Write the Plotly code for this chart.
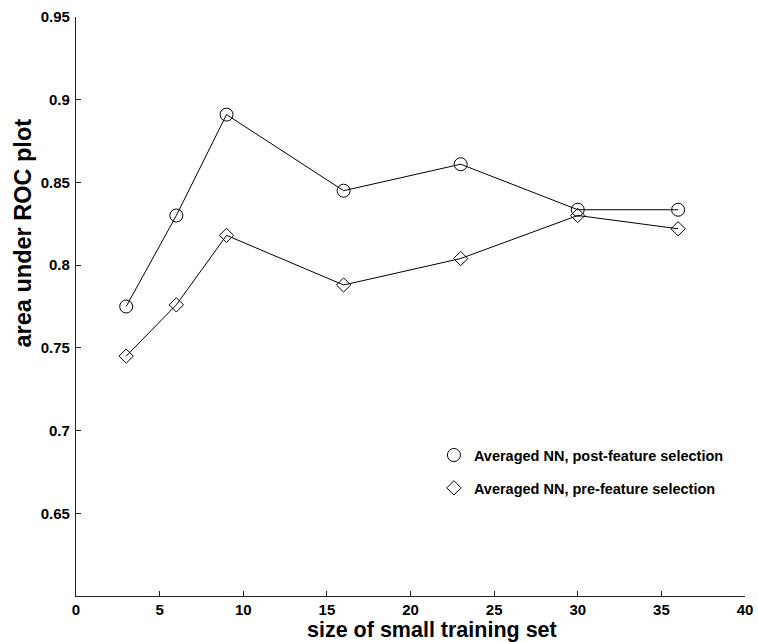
import plotly.graph_objects as go

train_size = [3, 6, 9, 16, 23, 30, 36]
auc_post = [0.775, 0.830, 0.891, 0.845, 0.861, 0.8335, 0.8335]
auc_pre = [0.745, 0.776, 0.818, 0.788, 0.804, 0.830, 0.822]

name_post = "Averaged NN, post-feature selection"
name_pre = "Averaged NN, pre-feature selection"
x_title = "size of small training set"
y_title = "area under ROC plot"

x_ticks = [0, 5, 10, 15, 20, 25, 30, 35, 40]
y_ticks = [0.65, 0.7, 0.75, 0.8, 0.85, 0.9, 0.95]
y_ticklabels = ["0.65", "0.7", "0.75", "0.8", "0.85", "0.9", "0.95"]

FONT = "Liberation Sans, Arial, sans-serif"

fig = go.Figure()
for ys, sym, sz, nm, grp in [
    (auc_post, "circle-open", 13, name_post, "a"),
    (auc_pre, "diamond-open", 11, name_pre, "b"),
]:
    fig.add_trace(go.Scatter(
        x=train_size, y=ys, mode="lines", showlegend=False,
        line=dict(color="black", width=1), hoverinfo="skip"))
    fig.add_trace(go.Scatter(
        x=train_size, y=ys, mode="markers", name=nm, legendgroup=grp,
        marker=dict(symbol=sym, size=sz, color="black",
                    line=dict(color="black", width=1))))

axis_common = dict(
    showline=True, linecolor="#222", linewidth=1.3, mirror=False,
    showgrid=False, zeroline=False, ticks="inside", ticklen=5,
    tickcolor="#222", tickwidth=1, automargin=False,
    tickfont=dict(family=FONT, size=15, color="black", weight="bold"),
)

fig.update_xaxes(range=[0, 40], tickvals=x_ticks, ticklabelstandoff=0, **axis_common)
fig.update_yaxes(range=[0.6, 0.95], tickvals=y_ticks, ticktext=y_ticklabels,
                 ticklabelstandoff=2, **axis_common)

fig.update_layout(
    width=758, height=642,
    margin=dict(l=76, r=13, t=17, b=46, autoexpand=False),
    paper_bgcolor="white", plot_bgcolor="white",
    showlegend=True,
    legend=dict(
        x=0.535, y=0.271, xanchor="left", yanchor="top",
        bgcolor="rgba(0,0,0,0)", borderwidth=0,
        font=dict(family=FONT, size=14.5, color="black", weight="bold"),
        traceorder="grouped", tracegroupgap=11,
    ),
    annotations=[
        dict(text=x_title, xref="paper", yref="paper", x=0.532, y=-0.0588,
             xanchor="center", yanchor="middle", showarrow=False,
             font=dict(family=FONT, size=21.5, color="black", weight="bold")),
        dict(text=y_title, xref="paper", yref="paper", x=-0.080, y=0.627,
             xanchor="center", yanchor="middle", showarrow=False, textangle=-90,
             font=dict(family=FONT, size=23.5, color="black", weight="bold")),
    ],
)

fig.write_html("out.html", config={"displayModeBar": False},
               post_script="document.body.style.margin='0';document.body.style.overflow='hidden';")
